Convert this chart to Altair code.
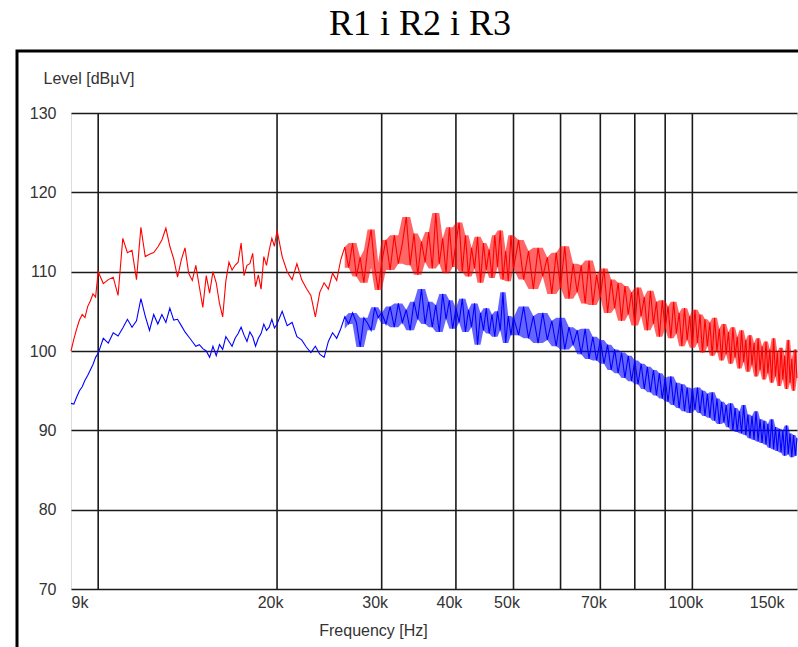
import altair as alt
import pandas as pd

# Measurement sweep frequencies (kHz)
freq_khz = [
    9.0, 9.1, 9.2, 9.3, 9.4, 9.5, 9.6, 9.7, 9.8, 9.9,
    10.0, 10.2, 10.4, 10.6, 10.8, 11.0, 11.2, 11.4, 11.6, 11.8,
    12.0, 12.2, 12.4, 12.6, 12.8, 13.0, 13.2, 13.4, 13.6, 13.8,
    14.0, 14.2, 14.4, 14.6, 14.8, 15.0, 15.2, 15.4, 15.6, 15.8,
    16.0, 16.2, 16.4, 16.6, 16.8, 17.0, 17.2, 17.4, 17.6, 17.8,
    18.0, 18.2, 18.4, 18.6, 18.8, 19.0, 19.2, 19.4, 19.6, 19.8,
    20.0, 20.4, 20.8, 21.2, 21.6, 22.0, 22.4, 22.8, 23.2, 23.6,
    24.0, 24.4, 24.8, 25.2, 25.6, 26.0, 26.4, 26.8, 27.2, 27.6,
    28.0, 28.4, 28.8, 29.2, 29.6, 30.0, 30.5, 31.0, 31.5, 32.0,
    32.5, 33.0, 33.5, 34.0, 34.5, 35.0, 35.5, 36.0, 36.5, 37.0,
    37.5, 38.0, 38.5, 39.0, 39.5, 40.0, 40.5, 41.0, 41.5, 42.0,
    42.5, 43.0, 43.5, 44.0, 44.5, 45.0, 45.5, 46.0, 46.5, 47.0,
    47.5, 48.0, 48.5, 49.0, 49.5, 50.0, 51, 52, 53, 54,
    55, 56, 57, 58, 59, 60, 61, 62, 63, 64,
    65, 66, 67, 68, 69, 70, 71, 72, 73, 74,
    75, 76, 77, 78, 79, 80, 81, 82, 83, 84,
    85, 86, 87, 88, 89, 90, 91, 92, 93, 94,
    95, 96, 97, 98, 99, 100, 101, 102, 103, 104,
    105, 106, 107, 108, 109, 110, 111, 112, 113, 114,
    115, 116, 117, 118, 119, 120, 121, 122, 123, 124,
    125, 126, 127, 128, 129, 130, 131, 132, 133, 134,
    135, 136, 137, 138, 139, 140, 141, 142, 143, 144,
    145, 146, 147, 148, 149, 150,
]

# Upper trace (dBuV)
level_red = [
    100.0, 101.5, 102.8, 103.9, 104.6, 104.2, 105.6, 106.3, 107.2, 106.8,
    110.0, 108.5, 109.0, 109.3, 107.0, 114.2, 112.4, 112.7, 109.0, 115.6,
    111.9, 112.2, 112.4, 113.1, 114.0, 115.5, 113.2, 111.6, 109.3, 111.5,
    113.0, 109.8, 108.9, 110.8, 108.1, 105.5, 109.5, 107.3, 110.0, 108.6,
    106.0, 104.3, 108.8, 111.2, 110.2, 110.8, 111.2, 113.6, 109.5, 110.8,
    111.0, 112.3, 108.1, 109.6, 107.8, 111.9, 110.8, 112.7, 114.2, 113.2,
    115.2, 111.9, 110.0, 109.0, 111.0, 109.0, 107.9, 107.0, 104.3, 107.4,
    108.6, 107.8, 109.8, 108.9, 111.5, 113.1, 110.5, 113.6, 109.4, 111.8,
    108.6, 112.7, 115.3, 110.5, 107.7, 111.2, 114.0, 110.2, 114.6, 111.0,
    113.5, 116.9, 110.8, 114.8, 109.6, 113.8, 111.2, 115.0, 110.4, 117.4,
    111.0, 114.2, 109.8, 115.6, 110.6, 113.6, 116.2, 110.0, 114.6, 109.4,
    113.0, 110.4, 114.4, 108.6, 113.6, 110.2, 112.8, 109.2, 114.6, 110.6,
    115.2, 109.0, 112.6, 108.8, 114.6, 110.4, 114.0, 109.0, 112.6, 107.8,
    113.0, 109.4, 111.8, 107.2, 112.4, 108.0, 113.2, 106.6, 111.0, 107.4,
    110.8, 106.0, 111.4, 105.8, 109.6, 106.8, 110.4, 104.8, 109.0, 105.4,
    108.6, 103.8, 108.2, 104.6, 107.4, 103.2, 108.0, 104.4, 106.8, 102.6,
    107.6, 103.4, 106.2, 101.8, 106.4, 102.8, 105.6, 101.6, 106.2, 102.2,
    104.8, 100.6, 105.4, 101.4, 104.4, 100.4, 105.2, 101.0, 104.6, 99.8,
    104.0, 100.6, 103.6, 99.4, 104.2, 100.0, 102.8, 98.8, 103.4, 99.6,
    102.4, 98.4, 103.0, 99.2, 101.8, 97.8, 102.6, 98.6, 101.4, 97.4,
    102.0, 98.2, 101.0, 96.8, 101.6, 97.6, 100.6, 96.4, 101.2, 97.2,
    100.2, 96.0, 101.6, 96.8, 99.8, 95.6, 100.4, 96.4, 99.4, 95.2,
    101.4, 96.0, 99.0, 95.0, 100.2, 96.6,
]

# Lower trace (dBuV)
level_blue = [
    93.4, 93.3, 94.2, 95.0, 95.5, 96.3, 96.9, 97.6, 98.3, 99.2,
    99.7, 101.6, 101.0, 102.3, 101.9, 102.9, 104.0, 103.0, 103.8, 106.6,
    104.4, 102.6, 104.6, 103.4, 104.6, 103.6, 105.4, 103.9, 104.0, 103.2,
    102.4, 101.8, 101.2, 100.6, 100.8, 100.3, 100.0, 99.2, 100.6, 99.4,
    100.8, 100.2, 101.8, 101.2, 100.6, 101.6, 102.2, 103.0, 102.0, 101.2,
    102.4, 101.8, 100.6, 101.6, 102.2, 103.4, 102.6, 103.0, 104.0, 102.9,
    103.4, 105.0, 103.2, 103.6, 101.8, 101.4, 100.5, 99.8, 100.6, 99.6,
    99.2, 101.2, 102.3, 101.6, 102.8, 104.3, 103.4, 104.8, 103.6, 100.5,
    104.2, 103.5, 102.6, 105.5, 104.2, 104.8, 103.4, 105.6, 103.0, 106.0,
    103.6, 105.2, 102.6, 106.2, 104.0, 107.8, 103.4, 106.2, 103.0, 105.8,
    102.4, 107.2, 104.0, 106.4, 102.8, 105.4, 103.6, 106.6, 102.4, 105.2,
    103.0, 106.0, 100.8, 104.8, 102.6, 105.4, 102.2, 104.6, 101.8, 105.0,
    102.6, 107.4, 101.0, 104.4, 102.0, 104.2, 102.0, 105.6, 101.6, 104.4,
    101.0, 104.8, 101.4, 103.8, 100.6, 104.2, 100.2, 103.0, 100.8, 102.6,
    99.6, 102.8, 99.0, 101.8, 98.8, 101.4, 98.4, 100.8, 97.6, 100.2,
    97.2, 99.8, 96.6, 99.4, 96.2, 98.8, 95.8, 98.4, 95.2, 98.0,
    94.8, 97.6, 94.4, 97.2, 94.0, 96.6, 93.6, 96.8, 93.2, 96.0,
    92.8, 95.8, 92.4, 95.4, 92.2, 95.2, 92.6, 95.4, 92.2, 95.0,
    91.8, 94.6, 91.6, 94.8, 91.2, 94.0, 90.8, 93.6, 91.0, 93.2,
    90.4, 93.4, 90.0, 92.8, 89.8, 92.4, 89.6, 93.2, 89.4, 92.0,
    89.0, 91.8, 88.8, 92.4, 88.6, 91.4, 88.4, 91.2, 88.2, 90.8,
    87.8, 91.4, 87.6, 90.4, 87.4, 90.2, 87.2, 90.0, 86.8, 90.6,
    87.0, 89.6, 86.6, 89.4, 86.8, 89.0,
]

grid_khz = [10, 20, 30, 40, 50, 60, 70, 80, 90, 100]
x_label_khz = [9, 20, 30, 40, 50, 70, 100, 150]
y_ticks = [70, 80, 90, 100, 110, 120, 130]

traces = pd.concat([
    pd.DataFrame({"f": freq_khz, "level": level_red, "trace": "upper"}),
    pd.DataFrame({"f": freq_khz, "level": level_blue, "trace": "lower"}),
])

FONT = "Liberation Sans"
TXT = "#333333"
W, H = 726, 476

x_scale = alt.Scale(type="log", domain=[9, 150], nice=False)
y_scale = alt.Scale(domain=[70, 130], nice=False, zero=False)
c_scale = alt.Scale(domain=["upper", "lower"], range=["#ff0000", "#0000ff"])

x_axis = alt.Axis(
    values=x_label_khz, labelExpr="datum.value + 'k'",
    grid=False, ticks=False, domain=False,
    labelFont=FONT, labelFontSize=16, labelColor=TXT, labelPadding=5,
    labelFlush=True,
    labelOffset={"condition": [{"test": "datum.value < 10", "value": 0},
                               {"test": "datum.value > 140", "value": -13}],
                 "value": -7},
    title="Frequency [Hz]", titleFont=FONT, titleFontSize=16,
    titleFontWeight="normal", titleColor=TXT,
    titleX=302, titleY=41, titleBaseline="middle",
)
y_axis = alt.Axis(
    values=y_ticks, grid=True, gridColor="#1a1a1a", gridWidth=1.6,
    ticks=False, domain=False,
    labelFont=FONT, labelFontSize=16, labelColor=TXT, labelPadding=15,
    title="Level [dBµV]", titleFont=FONT, titleFontSize=16,
    titleFontWeight="normal", titleColor=TXT, titleAngle=0,
    titleX=-28, titleY=-35, titleAlign="left", titleBaseline="middle",
)

X = alt.X("f:Q", scale=x_scale, axis=x_axis)

# outer frame around the figure
frame = alt.Chart(pd.DataFrame({"k": [0]})).mark_rect(
    fillOpacity=0, stroke="black", strokeWidth=3
).encode(
    x=alt.value(-54), x2=alt.value(780), y=alt.value(-62), y2=alt.value(620)
)

# vertical frequency grid
vgrid = alt.Chart(pd.DataFrame({"f": grid_khz})).mark_rule(
    color="#1a1a1a", strokeWidth=1.6
).encode(x=X)

base = alt.Chart(traces)

# dense noise band: local min/max of neighbouring sweep points
band = base.transform_window(
    lo="min(level)", hi="max(level)", frame=[-1, 1],
    groupby=["trace"], sort=[alt.SortField("f")],
).transform_filter("datum.f >= 26").mark_area(opacity=0.6).encode(
    x=X,
    y=alt.Y("lo:Q", scale=y_scale, axis=y_axis),
    y2="hi:Q",
    color=alt.Color("trace:N", scale=c_scale, legend=None),
    detail="trace:N",
)

lines = base.mark_line(strokeWidth=1.1).encode(
    x=X,
    y=alt.Y("level:Q", scale=y_scale, axis=y_axis),
    color=alt.Color("trace:N", scale=c_scale, legend=None),
    detail="trace:N",
)

chart = alt.layer(frame, vgrid, band, lines).properties(
    width=W, height=H,
    title=alt.TitleParams(
        "R1 i R2 i R3", font="Liberation Serif", fontSize=36,
        fontWeight="normal", color="black", anchor="middle",
        baseline="alphabetic", offset=12, dx=-14, dy=33,
    ),
    autosize=alt.AutoSizeParams(type="none"),
    padding={"left": 71, "top": 113, "right": 1, "bottom": 58},
).configure_view(
    stroke="black", strokeWidth=2
).configure(background="white")

chart.save("out.html", embed_options={"renderer": "svg", "actions": False})
